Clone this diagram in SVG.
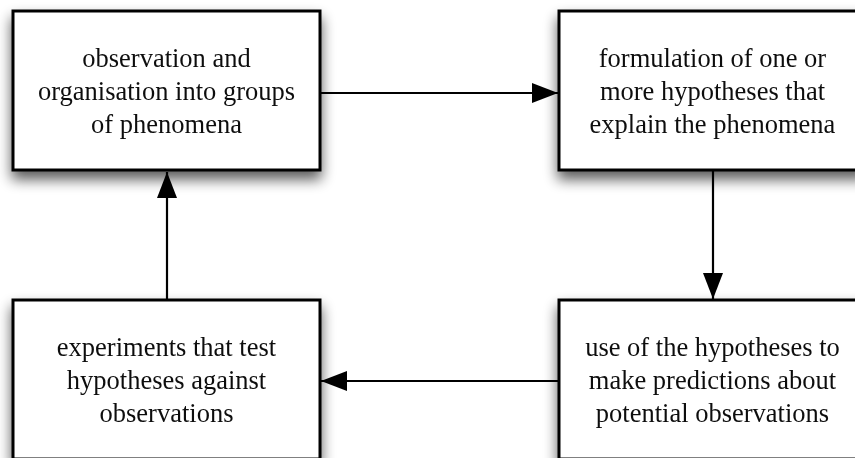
<svg xmlns="http://www.w3.org/2000/svg" width="855" height="458" viewBox="0 0 855 458">
<defs>
<filter id="sh" x="-20%" y="-20%" width="140%" height="160%">
<feGaussianBlur in="SourceAlpha" stdDeviation="7"/>
<feOffset dx="0" dy="8" result="b"/>
<feComponentTransfer><feFuncA type="linear" slope="0.65"/></feComponentTransfer>
<feMerge><feMergeNode/><feMergeNode in="SourceGraphic"/></feMerge>
</filter>
<marker id="ah" markerWidth="26" markerHeight="20" refX="26" refY="10" orient="auto" markerUnits="userSpaceOnUse">
<path d="M0,0 L26,10 L0,20 Z" fill="#000"/>
</marker>
</defs>
<style>
.box{fill:#fff;stroke:#000;stroke-width:3}
.t{font-family:"Liberation Serif","Times New Roman",serif;font-size:26.5px;fill:#111;text-anchor:middle}
.c{stroke:#000;stroke-width:2.2;fill:none}
</style>
<rect width="855" height="458" fill="#fff"/>
<g id="n1" filter="url(#sh)">
<rect class="box" x="13" y="11" width="307" height="159"/>
<text class="t" x="166.5" y="67">observation and</text>
<text class="t" x="166.5" y="100">organisation into groups</text>
<text class="t" x="166.5" y="133">of phenomena</text>
</g>
<g id="n2" filter="url(#sh)">
<rect class="box" x="559" y="11" width="307" height="159"/>
<text class="t" x="712.5" y="67">formulation of one or</text>
<text class="t" x="712.5" y="100">more hypotheses that</text>
<text class="t" x="712.5" y="133">explain the phenomena</text>
</g>
<g id="n3" filter="url(#sh)">
<rect class="box" x="559" y="300" width="307" height="159"/>
<text class="t" x="712.5" y="356">use of the hypotheses to</text>
<text class="t" x="712.5" y="389">make predictions about</text>
<text class="t" x="712.5" y="422">potential observations</text>
</g>
<g id="n4" filter="url(#sh)">
<rect class="box" x="13" y="300" width="307" height="159"/>
<text class="t" x="166.5" y="356">experiments that test</text>
<text class="t" x="166.5" y="389">hypotheses against</text>
<text class="t" x="166.5" y="422">observations</text>
</g>
<g id="connectors">
<line class="c" x1="321" y1="93" x2="558" y2="93" marker-end="url(#ah)"/>
<line class="c" x1="713" y1="171" x2="713" y2="299" marker-end="url(#ah)"/>
<line class="c" x1="559" y1="381" x2="321" y2="381" marker-end="url(#ah)"/>
<line class="c" x1="167" y1="299" x2="167" y2="172" marker-end="url(#ah)"/>
</g>
</svg>
